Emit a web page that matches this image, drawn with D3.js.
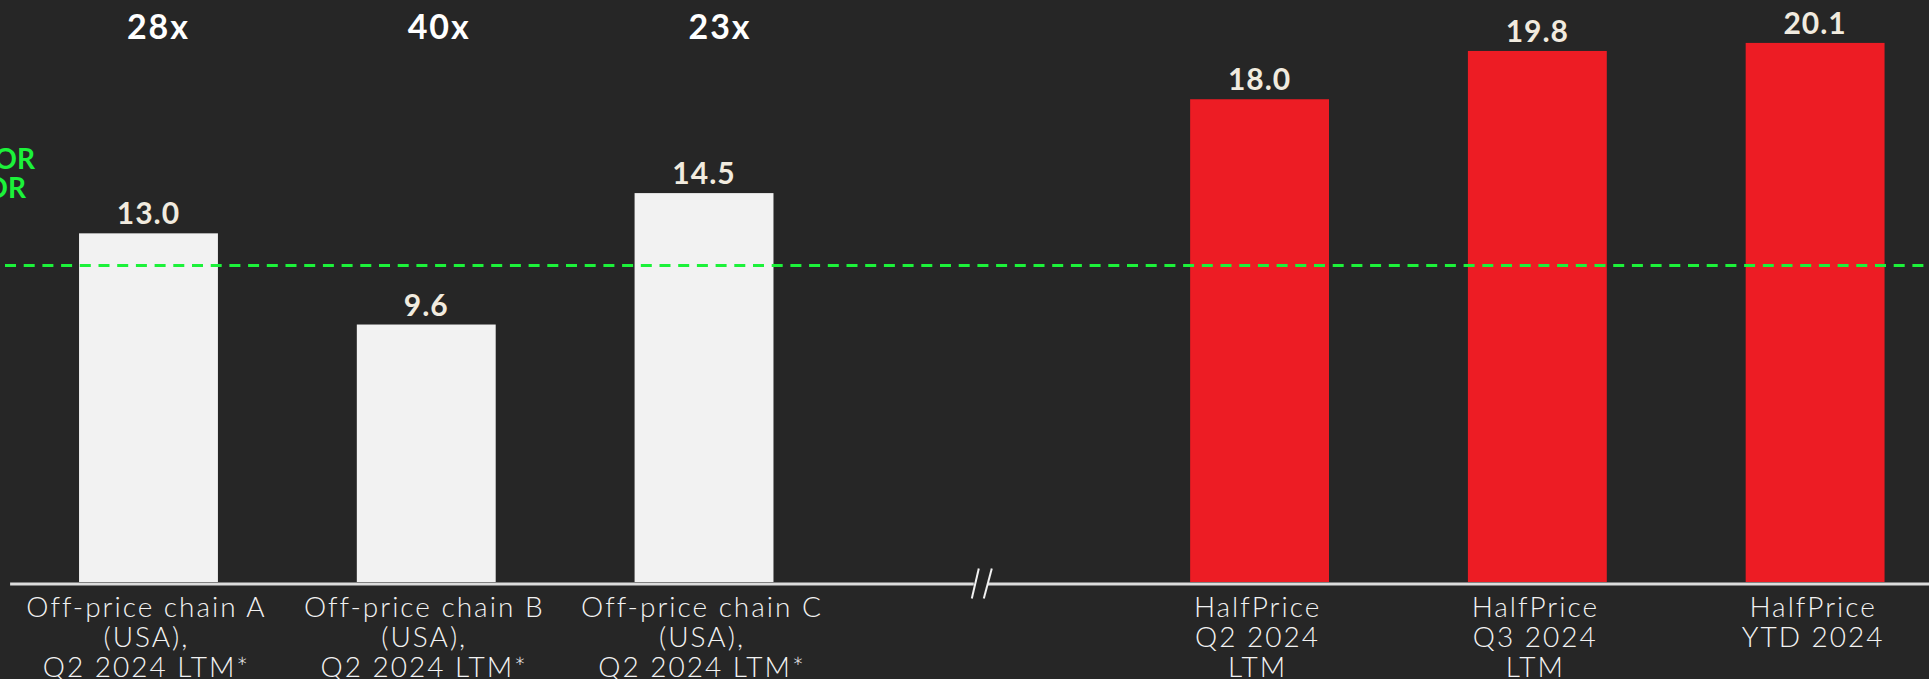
<!DOCTYPE html>
<html>
<head>
<meta charset="utf-8">
<script src="https://cdn.jsdelivr.net/npm/d3@7"></script>
<style>
  html, body { margin: 0; padding: 0; background: #262626; overflow: hidden; }
  svg { display: block; }
</style>
</head>
<body>
<svg id="chart" width="1929" height="679"></svg>
<script>
// ---- data ----
const categories = ["chainA", "chainB", "chainC", "gap", "hpQ2", "hpQ3", "hpYTD"];
const categoryLabels = [
  ["Off-price chain A", "(USA),", "Q2 2024 LTM*"],
  ["Off-price chain B", "(USA),", "Q2 2024 LTM*"],
  ["Off-price chain C", "(USA),", "Q2 2024 LTM*"],
  [],
  ["HalfPrice", "Q2 2024", "LTM"],
  ["HalfPrice", "Q3 2024", "LTM"],
  ["HalfPrice", "YTD 2024"]
];
const values = [13.0, 9.6, 14.5, null, 18.0, 19.8, 20.1];
const valueLabels = ["13.0", "9.6", "14.5", "", "18.0", "19.8", "20.1"];
const multiples = ["28x", "40x", "23x", "", "", "", ""];
const groups = ["peer", "peer", "peer", "gap", "halfprice", "halfprice", "halfprice"];
const referenceValue = 11.8;
const referenceLabel = ["BENCHMARK FOR", "THE SECTOR"];

// ---- setup ----
const W = 1929, H = 679;
const svg = d3.select("#chart");
svg.append("rect").attr("width", W).attr("height", H).attr("fill", "#262626");

const x = d3.scaleBand().domain(categories).range([9.6, 1954]).paddingInner(0.5).paddingOuter(0.25);
const y = d3.scaleLinear().domain([0, 21.7]).range([582, 0]);
const color = d3.scaleOrdinal().domain(["peer", "halfprice", "gap"]).range(["#f2f2f2", "#ed1c24", "none"]);

const data = categories.map((c, i) => ({ c, v: values[i], lbl: valueLabels[i], mult: multiples[i], g: groups[i], lines: categoryLabels[i] }));
const barData = data.filter(d => d.v !== null);

// bars
svg.append("g").selectAll("rect").data(barData).join("rect")
  .attr("x", d => x(d.c))
  .attr("y", d => y(d.v))
  .attr("width", x.bandwidth())
  .attr("height", d => y(0) - y(d.v))
  .attr("fill", d => color(d.g));

// value labels
svg.append("g").selectAll("text").data(barData).join("text")
  .attr("x", d => x(d.c) + x.bandwidth() / 2)
  .attr("y", d => y(d.v) - 9)
  .attr("text-anchor", "middle")
  .attr("font-family", "Lato, sans-serif")
  .attr("font-weight", 700)
  .attr("font-size", 30)
  .attr("letter-spacing", 1)
  .attr("fill", "#f1ebdf")
  .text(d => d.lbl);

// multiples on top
svg.append("g").selectAll("text").data(data.filter(d => d.mult)).join("text")
  .attr("x", (d, i) => x(d.c) + x.bandwidth() / 2 + 10 + i * 3)
  .attr("y", 39)
  .attr("text-anchor", "middle")
  .attr("font-family", "Lato, sans-serif")
  .attr("font-weight", 700)
  .attr("font-size", 34)
  .attr("letter-spacing", 2)
  .attr("fill", "#ffffff")
  .text(d => d.mult);

// reference dashed line
svg.append("line")
  .attr("x1", 5).attr("x2", W)
  .attr("y1", y(referenceValue)).attr("y2", y(referenceValue))
  .attr("stroke", "#1cf23a")
  .attr("stroke-width", 3)
  .attr("stroke-dasharray", "11,7.7");

// reference label (cut off on the left)
const refText = svg.append("text")
  .attr("font-family", "Lato, sans-serif")
  .attr("font-weight", 700)
  .attr("font-size", 28)
  .attr("fill", "#1cf23a")
  .attr("text-anchor", "end");
refText.append("tspan").attr("x", 35).attr("y", 169).text(referenceLabel[0]);
refText.append("tspan").attr("x", 26).attr("y", 198).text(referenceLabel[1]);

// x axis
const axisG = svg.append("g").attr("transform", "translate(0,583.5)")
  .call(d3.axisBottom(x).tickSize(0).tickSizeOuter(0).tickFormat(""));
axisG.select(".domain").attr("stroke", "#dcdcdc").attr("stroke-width", 3);
axisG.selectAll(".tick").each(function(c) {
  const lines = categoryLabels[categories.indexOf(c)];
  const t = d3.select(this).append("text")
    .attr("fill", "#f2f2f2")
    .attr("font-family", "Lato, sans-serif")
    .attr("font-weight", 300)
    .attr("font-size", 28)
    .attr("letter-spacing", 2)
    .attr("text-anchor", "middle")
    .attr("y", 0);
  lines.forEach((ln, k) => {
    t.append("tspan").attr("x", -2).attr("y", 33.5 + k * 30).text(ln);
  });
});

// axis break mark
const bx = x("gap") + x.bandwidth() / 2;
const brk = axisG.append("g").attr("transform", `translate(${bx},0)`);
brk.append("rect").attr("x", -8).attr("y", -3).attr("width", 14).attr("height", 6).attr("fill", "#262626");
brk.append("line").attr("x1", -10).attr("y1", 15).attr("x2", -3).attr("y2", -15)
  .attr("stroke", "#f2f2f2").attr("stroke-width", 2);
brk.append("line").attr("x1", 2).attr("y1", 15).attr("x2", 10).attr("y2", -15)
  .attr("stroke", "#f2f2f2").attr("stroke-width", 2);
</script>
</body>
</html>
